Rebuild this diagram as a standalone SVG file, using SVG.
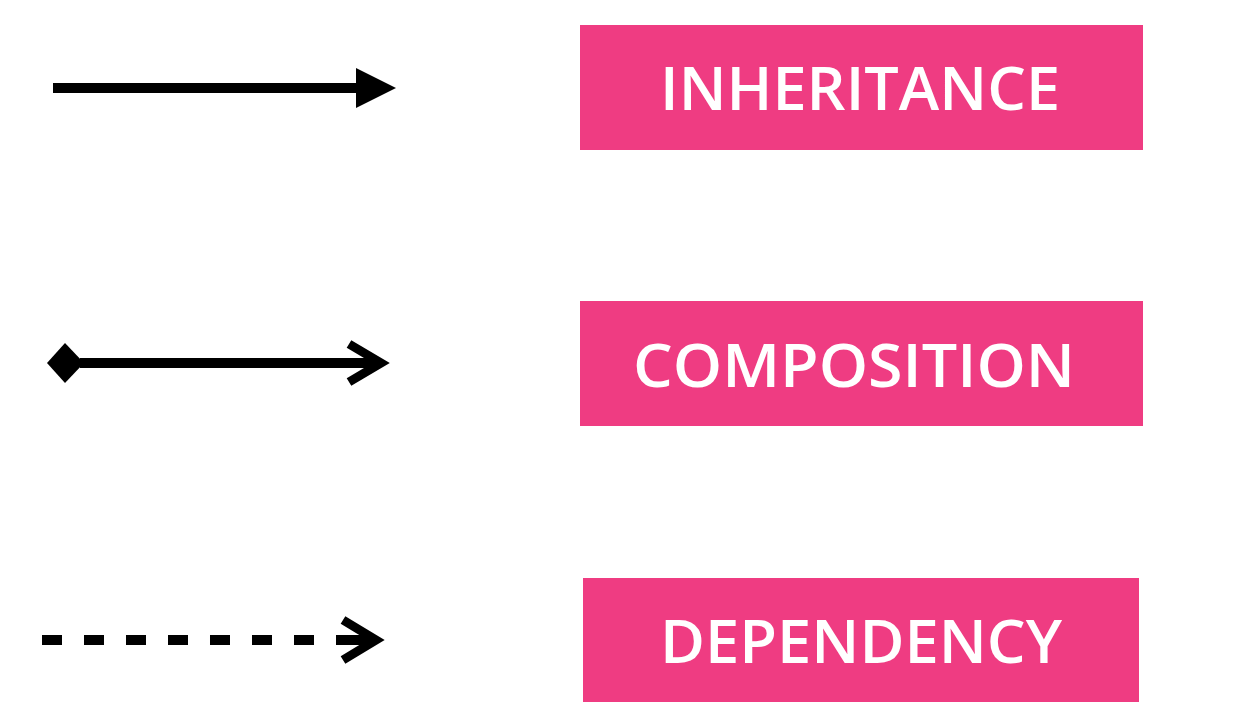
<svg xmlns="http://www.w3.org/2000/svg" width="1234" height="714" viewBox="0 0 1234 714">
<style>
.box{fill:#EF3C82}
.lbl{fill:#ffffff;font-family:"Open Sans","Liberation Sans",sans-serif;font-size:60px;font-weight:600;text-anchor:middle}
.ln{stroke:#000;stroke-width:10;fill:none}
.chev{stroke:#000;stroke-width:9;fill:none;stroke-linejoin:miter;stroke-linecap:butt}
</style>
<rect width="1234" height="714" fill="#ffffff"/>
<g id="connectors">
  <g id="inheritance-arrow">
    <line class="ln" x1="53" y1="88" x2="360" y2="88"/>
    <polygon points="356,68 396,88 356,108" fill="#000"/>
  </g>
  <g id="composition-arrow">
    <polygon points="47,363 65,343 84,363 65,383" fill="#000"/>
    <line class="ln" x1="80" y1="363" x2="378" y2="363"/>
    <polyline class="chev" points="349,344 381,363 349,382"/>
  </g>
  <g id="dependency-arrow">
    <line class="ln" x1="42" y1="640" x2="370" y2="640" stroke-dasharray="20 22"/>
    <line class="ln" x1="337" y1="640" x2="372" y2="640"/>
    <polyline class="chev" points="343,620 376,640 343,660"/>
  </g>
</g>
<g id="inheritance">
  <rect class="box" x="580" y="25" width="563" height="125"/>
  <text class="lbl" x="860" y="110" textLength="400" lengthAdjust="spacingAndGlyphs">INHERITANCE</text>
</g>
<g id="composition">
  <rect class="box" x="580" y="301" width="563" height="125"/>
  <text class="lbl" x="854" y="387" textLength="442" lengthAdjust="spacingAndGlyphs">COMPOSITION</text>
</g>
<g id="dependency">
  <rect class="box" x="583" y="578" width="556" height="124"/>
  <text class="lbl" x="861" y="663" textLength="402" lengthAdjust="spacingAndGlyphs">DEPENDENCY</text>
</g>
</svg>
